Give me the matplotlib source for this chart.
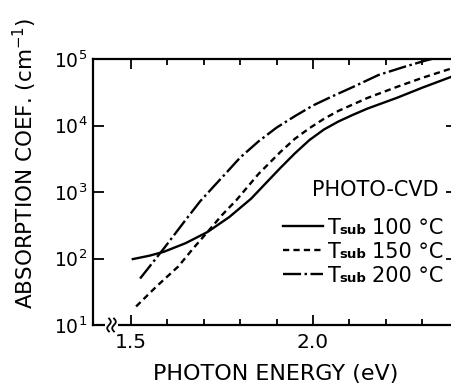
import numpy as np
import matplotlib
matplotlib.use("Agg")
import matplotlib.pyplot as plt
from matplotlib.lines import Line2D
from matplotlib.patches import Rectangle
from matplotlib.ticker import FixedLocator, NullLocator

plt.rcParams['font.family'] = ['DejaVu Sans']
plt.rcParams['mathtext.default'] = 'regular'
plt.rcParams['lines.scale_dashes'] = False

# absorption spectra (photon energy eV, coefficient cm^-1)
e_100 = [1.505, 1.55, 1.59, 1.65, 1.71, 1.77, 1.83, 1.87, 1.91, 1.95, 1.99, 2.03, 2.07,
         2.11, 2.15, 2.23, 2.30, 2.38, 2.40]
a_100 = [98, 110, 126, 170, 250, 420, 794, 1350, 2290, 3800, 6030, 8700, 11500,
         14500, 18000, 26000, 37000, 54000, 57000]

e_150 = [1.514, 1.57, 1.63, 1.67, 1.71, 1.75, 1.79, 1.85, 1.91, 1.95, 1.99, 2.03, 2.07,
         2.15, 2.23, 2.30, 2.38, 2.40]
a_150 = [19, 38, 76, 140, 250, 450, 760, 1860, 3980, 6300, 9100, 12600, 16600,
         26000, 38000, 52000, 72000, 76000]

e_200 = [1.525, 1.59, 1.65, 1.69, 1.73, 1.76, 1.80, 1.85, 1.90, 1.95, 2.00, 2.05, 2.11,
         2.18, 2.25, 2.31, 2.40]
a_200 = [50, 141, 380, 725, 1260, 1900, 3300, 5750, 9300, 13800, 20000, 27000, 38000,
         57500, 76000, 95000, 126000]

labels = ['100 °C', '150 °C', '200 °C']
W, H = 452, 384


def fx(x):
    return x / W


def fy(y):
    return 1 - y / H


fig = plt.figure(figsize=(W / 100, H / 100), dpi=100)
ax = fig.add_axes([fx(93), fy(325), (457 - 93) / W, (325 - 59) / H])

lw = 1.7
solid_style = dict(color='black', lw=lw, linestyle='-')
dash_style = dict(color='black', lw=lw, dashes=(4.5, 3))
dashdot_style = dict(color='black', lw=lw, dashes=(13, 2.5, 1.8, 2.5))

ax.plot(e_100, a_100, **solid_style)
ax.plot(e_150, a_150, **dash_style)
ax.plot(e_200, a_200, **dashdot_style)

ax.set_yscale('log')
ax.set_xlim(1.3956, 2.3956)
ax.set_ylim(10, 1e5)

ax.xaxis.set_major_locator(FixedLocator([1.5, 2.0]))
ax.xaxis.set_minor_locator(FixedLocator([1.6, 1.7, 1.8, 1.9, 2.1, 2.2, 2.3]))
ax.set_xticklabels(['1.5', '2.0'])
ax.yaxis.set_major_locator(FixedLocator([10, 100, 1e3, 1e4, 1e5]))
ax.yaxis.set_minor_locator(NullLocator())
ax.set_yticklabels(['$10^{1}$', '$10^{2}$', '$10^{3}$', '$10^{4}$', '$10^{5}$'])

ax.tick_params(axis='x', which='major', direction='in', top=True, length=7.5,
               width=1.3, labelsize=14.5, pad=6)
ax.tick_params(axis='x', which='minor', direction='in', top=True, length=4.5, width=1.3)
ax.tick_params(axis='y', which='major', direction='in', right=True, length=8,
               width=1.3, labelsize=13.5, pad=4)
for s in ax.spines.values():
    s.set_linewidth(1.6)

# axis break on the energy axis
fig.patches.append(Rectangle((fx(105), fy(329)), 13 / W, 8 / H, transform=fig.transFigure,
                             facecolor='white', edgecolor='none', zorder=5))
t = np.linspace(-1, 1, 30)
for x0 in (109, 114):
    xs = x0 + 1.8 * np.sin(np.pi * t)
    ys = 325 - 6.5 * t
    fig.add_artist(Line2D(fx(xs), fy(ys), transform=fig.transFigure, color='black',
                          lw=1.3, zorder=6))

fig.text(fx(276), fy(374), 'PHOTON ENERGY (eV)', ha='center', va='center', fontsize=16)
fig.text(fx(25), fy(163), 'ABSORPTION COEF. (cm$^{-1}$)', ha='center', va='center',
         rotation=90, fontsize=15.5)

# legend block
fig.text(fx(375), fy(190), 'PHOTO-CVD', ha='center', va='center', fontsize=15)
rows = [226, 250, 274]
styles = [solid_style, dash_style, dashdot_style]
for y, lab, st in zip(rows, labels, styles):
    fig.add_artist(Line2D([fx(283), fx(323)], [fy(y), fy(y)], transform=fig.transFigure, **st))
    base = fy(y + 8)
    fig.text(fx(328), base, 'T', ha='left', va='baseline', fontsize=15)
    fig.text(fx(339), base, 'sub', ha='left', va='baseline', fontsize=9.5, fontweight='bold')
    fig.text(fx(372), base, lab, ha='left', va='baseline', fontsize=15)

fig.savefig('out.png', dpi=100)
